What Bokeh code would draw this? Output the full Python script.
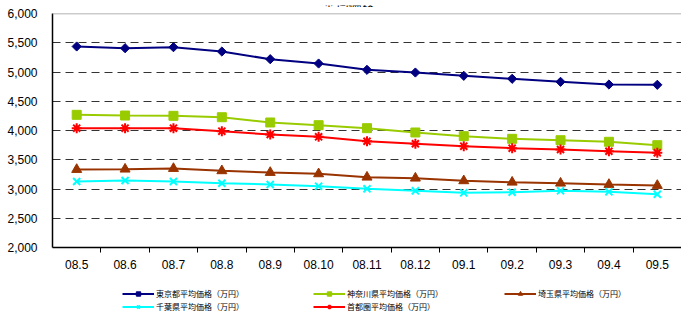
import numpy as np
from bokeh.plotting import figure
from bokeh.layouts import column
from bokeh.models import (FixedTicker, Legend, LegendItem, Label, Span,
                          NumeralTickFormatter, Range1d)
from bokeh.embed import file_html
from bokeh.resources import INLINE

months = ["08.5", "08.6", "08.7", "08.8", "08.9", "08.10", "08.11", "08.12",
          "09.1", "09.2", "09.3", "09.4", "09.5"]
tokyo = [5436, 5407, 5424, 5350, 5219, 5145, 5037, 4991, 4935, 4884, 4832, 4786, 4781]
kanagawa = [4268, 4256, 4251, 4227, 4137, 4091, 4040, 3966, 3903, 3858, 3834, 3807, 3749]
saitama = [3333, 3339, 3350, 3311, 3282, 3259, 3202, 3185, 3140, 3116, 3099, 3077, 3060]
chiba = [3128, 3145, 3128, 3099, 3077, 3048, 3003, 2969, 2935, 2946, 2969, 2952, 2911]
shutoken = [4040, 4040, 4040, 3988, 3932, 3892, 3817, 3773, 3732, 3698, 3675, 3646, 3619]

labels = ["東京都平均価格（万円）", "神奈川県平均価格（万円）", "埼玉県平均価格（万円）",
          "千葉県平均価格（万円）", "首都圏平均価格（万円）"]
title_text = "平均価格"
y_ticks = [2000, 2500, 3000, 3500, 4000, 4500, 5000, 5500, 6000]

xs = [i + 0.5 for i in range(len(months))]

W = 681
LEFT = 52

def bare(fig):
    fig.outline_line_color = None
    fig.grid.visible = False
    fig.background_fill_color = "white"
    fig.border_fill_color = "white"

# title strip (the title is cut by the top edge, as in the reference)
p0 = figure(width=W, height=7, output_backend="svg", toolbar_location=None,
            x_axis_location=None, y_axis_location=None,
            x_range=Range1d(LEFT, W), y_range=Range1d(0, 7),
            min_border_left=LEFT, min_border_right=0, min_border_top=0, min_border_bottom=0)
bare(p0)
p0.add_layout(Label(x=348, y=0, y_offset=-2, text=title_text, text_align="center",
                    text_baseline="bottom", text_font="Noto Sans CJK JP",
                    text_font_size="13px", text_color="black"))

p = figure(width=W, height=273, output_backend="svg", toolbar_location=None,
           x_range=Range1d(0, len(months)), y_range=Range1d(y_ticks[0], y_ticks[-1]),
           min_border_left=LEFT, min_border_right=0, min_border_top=6, min_border_bottom=33)
p.outline_line_color = None
p.background_fill_color = "white"
p.border_fill_color = "white"

axis_font = "Liberation Sans"

# x axis
p.xaxis.ticker = FixedTicker(ticks=xs, minor_ticks=list(range(1, len(months))))
p.xaxis.major_label_overrides = {x: m for x, m in zip(xs, months)}
p.xaxis.major_tick_line_color = None
p.xaxis.major_tick_out = 5
p.xaxis.major_tick_in = 0
p.xaxis.minor_tick_line_color = "black"
p.xaxis.minor_tick_out = 5
p.xaxis.minor_tick_in = 0
p.xaxis.major_label_standoff = 7
p.xaxis.axis_line_color = "black"
p.xaxis.axis_line_width = 1.5
p.xaxis.major_label_text_font = axis_font
p.xaxis.major_label_text_font_size = "12px"
p.xaxis.major_label_text_color = "black"

# y axis
p.yaxis.ticker = FixedTicker(ticks=y_ticks)
p.yaxis.formatter = NumeralTickFormatter(format="0,0")
p.yaxis.major_tick_line_color = None
p.yaxis.minor_tick_line_color = None
p.yaxis.major_tick_out = 0
p.yaxis.major_tick_in = 0
p.yaxis.major_label_standoff = 15
p.yaxis.axis_line_color = "black"
p.yaxis.axis_line_width = 1.5
p.yaxis.major_label_text_font = axis_font
p.yaxis.major_label_text_font_size = "12px"
p.yaxis.major_label_text_color = "black"

p.xgrid.visible = False
p.ygrid.ticker = FixedTicker(ticks=y_ticks[1:-1])
p.ygrid.grid_line_color = "#333333"
p.ygrid.grid_line_dash = "8 5"
p.ygrid.grid_line_width = 1

p.add_layout(Span(location=y_ticks[-1], dimension="width", line_color="#999999", line_width=1.5))

series = [
    (tokyo, "#000080", "square", 6.5, np.pi / 4),
    (kanagawa, "#99CC00", "square", 9, 0),
    (saitama, "#993300", "triangle", 10, 0),
    (chiba, "#00FFFF", "x", 10, 0),
    (shutoken, "#FF0000", "asterisk", 10, 0),
]

# legend strip below the chart (its renderers sit outside its visible range)
p2 = figure(width=W, height=31, output_backend="svg", toolbar_location=None,
            x_axis_location=None, y_axis_location=None,
            x_range=Range1d(-100, -99), y_range=Range1d(-100, -99),
            min_border_left=LEFT, min_border_right=0, min_border_top=0, min_border_bottom=0)
bare(p2)

def add_series(fig, vals, color, marker, size, ang):
    lr = fig.line(xs, vals, line_color=color, line_width=2)
    if marker in ("x", "asterisk"):
        sr = fig.scatter(xs, vals, marker=marker, size=size, line_color=color, line_width=2)
    else:
        sr = fig.scatter(xs, vals, marker=marker, size=size, angle=ang,
                         fill_color=color, line_color=color)
    return lr, sr

items = []
for (vals, color, marker, size, ang), lab in zip(series, labels):
    add_series(p, vals, color, marker, size, ang)
    lr, sr = add_series(p2, vals, color, marker, size, ang)
    items.append(LegendItem(label=lab, renderers=[lr, sr]))

legend = Legend(items=items, location=(70, -1), orientation="horizontal", ncols=3,
                padding=0, margin=0, border_line_color=None, background_fill_alpha=0,
                glyph_width=32, glyph_height=11, label_height=11, label_width=155,
                label_standoff=2, spacing=2, label_text_font="Noto Sans CJK JP",
                label_text_font_size="8px", label_text_color="black")
p2.add_layout(legend)

layout = column(p0, p, p2, spacing=0)
open("out.html", "w").write(file_html(layout, INLINE))
